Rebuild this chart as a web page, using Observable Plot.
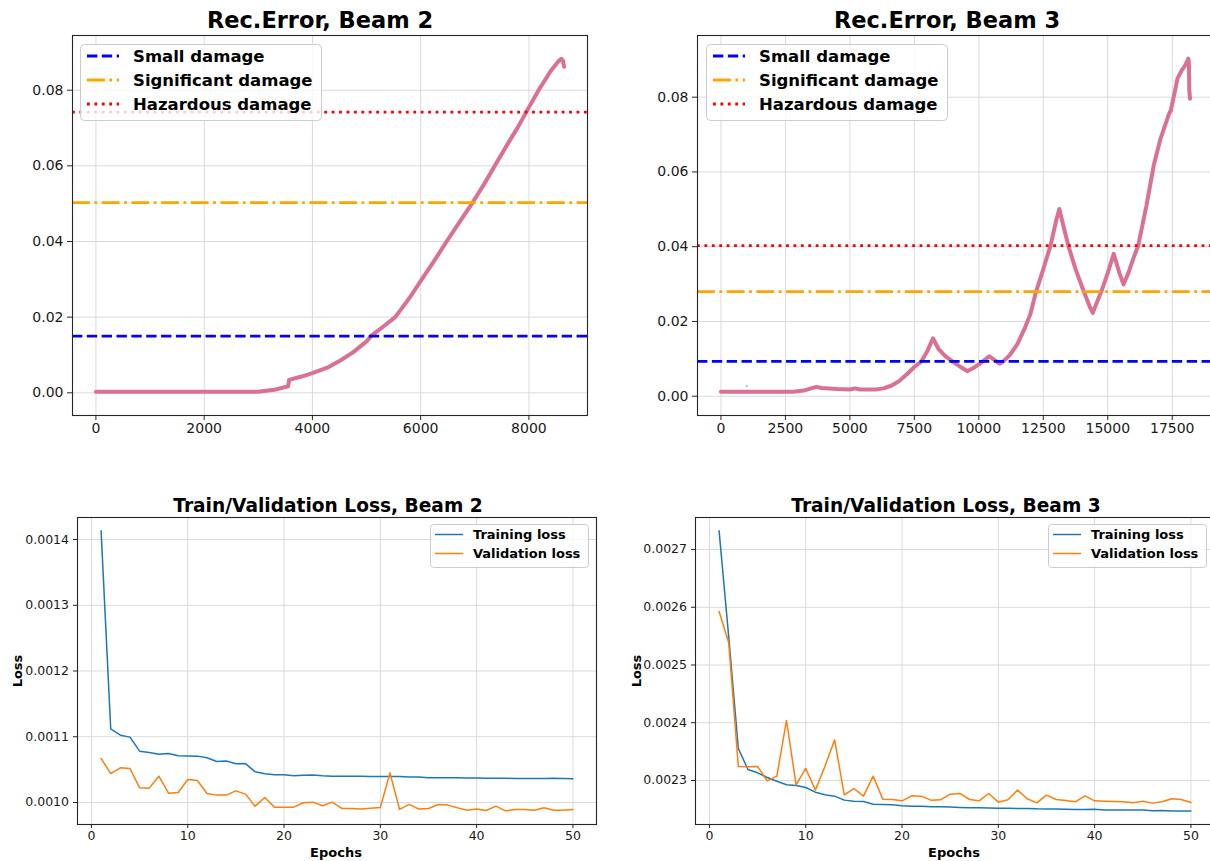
<!DOCTYPE html>
<html><head><meta charset="utf-8">
<script src="https://cdn.jsdelivr.net/npm/d3@7"></script>
<script src="https://cdn.jsdelivr.net/npm/@observablehq/plot@0.6"></script>
<style>
body{margin:0;background:#fff;}
#root{position:relative;width:1210px;height:861px;overflow:hidden;background:#fff;font-family:"DejaVu Sans",sans-serif;}
.panel{position:absolute;}
.panel svg{max-width:none !important;display:block;}
#overlay{position:absolute;left:0;top:0;pointer-events:none;}
</style>
</head><body>
<div id="root"></div>
<script>
// ---------------- data ----------------
const beam2Index = [0,1000,2000,3000,3300,3550,3570,3800,4000,4300,4500,4750,5000,5090,5300,5530,5800,6020,6250,6480,6720,6960,7170,7370,7650,7800,7950,8200,8400,8550,8600,8630,8650];
const beam2Error = [0.0003,0.0003,0.0003,0.0003,0.0008,0.0017,0.0034,0.0043,0.0052,0.0068,0.0084,0.0107,0.0136,0.0151,0.0174,0.0200,0.0252,0.0300,0.0349,0.0400,0.0452,0.0503,0.0551,0.0600,0.0668,0.0703,0.0742,0.0805,0.0850,0.0877,0.0883,0.0878,0.0862];

const beam3Index = [0,1000,2000,2800,3200,3500,3700,3900,4500,5000,5200,5400,6000,6300,6600,6900,7200,7500,7770,8000,8220,8450,8700,9000,9300,9550,9800,10100,10400,10600,10800,10950,11200,11500,11800,12000,12220,12500,12780,13000,13120,13300,13470,13750,14070,14300,14420,14600,14750,15000,15230,15450,15610,15800,16000,16180,16500,16790,17050,17380,17450,17700,17850,18000,18127,18150,18160,18190];
const beam3Error = [0.0012,0.0012,0.0012,0.0012,0.0015,0.0021,0.0025,0.0022,0.0019,0.0018,0.0021,0.0018,0.0018,0.0021,0.0028,0.0040,0.0058,0.0078,0.0093,0.0120,0.0155,0.0125,0.0107,0.0092,0.0078,0.0067,0.0076,0.0090,0.0107,0.0097,0.0087,0.0093,0.0110,0.0140,0.0185,0.0220,0.0280,0.0340,0.0403,0.0470,0.0501,0.0450,0.0403,0.0340,0.0280,0.0240,0.0223,0.0255,0.0280,0.0330,0.0381,0.0330,0.0299,0.0330,0.0370,0.0403,0.0510,0.0620,0.0690,0.0756,0.0765,0.0849,0.0870,0.0885,0.0903,0.0885,0.0820,0.0796];
const beam3OutlierIndex = [1000];
const beam3OutlierError = [0.0027];

const thresholdNames = ["Small damage","Significant damage","Hazardous damage"];
const thresholdColors = ["#0000ff","#ffa500","#ff0000"];
const beam2Thresholds = [0.0150,0.0503,0.0742];
const beam3Thresholds = [0.0093,0.0280,0.0403];

const epochs = [1,2,3,4,5,6,7,8,9,10,11,12,13,14,15,16,17,18,19,20,21,22,23,24,25,26,27,28,29,30,31,32,33,34,35,36,37,38,39,40,41,42,43,44,45,46,47,48,49,50];
const train2 = [0.0014132,0.0011120,0.0011024,0.0010994,0.0010780,0.0010760,0.0010735,0.0010745,0.0010710,0.0010708,0.0010705,0.0010680,0.0010624,0.0010630,0.0010590,0.0010592,0.0010466,0.0010436,0.0010421,0.0010421,0.0010406,0.0010413,0.0010418,0.0010405,0.0010400,0.0010400,0.0010399,0.0010400,0.0010397,0.0010395,0.0010394,0.0010397,0.0010386,0.0010386,0.0010376,0.0010376,0.0010375,0.0010375,0.0010374,0.0010372,0.0010370,0.0010367,0.0010368,0.0010365,0.0010366,0.0010363,0.0010364,0.0010368,0.0010366,0.0010360];
const val2 = [0.0010670,0.0010440,0.0010527,0.0010517,0.0010223,0.0010218,0.0010400,0.0010142,0.0010152,0.0010350,0.0010335,0.0010137,0.0010112,0.0010112,0.0010177,0.0010127,0.0009944,0.0010076,0.0009929,0.0009929,0.0009929,0.0009995,0.0010005,0.0009950,0.0010005,0.0009909,0.0009909,0.0009899,0.0009914,0.0009924,0.0010451,0.0009894,0.0009970,0.0009899,0.0009909,0.0009970,0.0009960,0.0009919,0.0009883,0.0009899,0.0009878,0.0009944,0.0009873,0.0009894,0.0009894,0.0009883,0.0009919,0.0009883,0.0009883,0.0009894];
const train3 = [0.0027323,0.0025488,0.0023554,0.0023190,0.0023133,0.0023052,0.0022988,0.0022925,0.0022913,0.0022879,0.0022798,0.0022752,0.0022729,0.0022660,0.0022642,0.0022636,0.0022590,0.0022584,0.0022579,0.0022561,0.0022556,0.0022555,0.0022546,0.0022544,0.0022540,0.0022533,0.0022527,0.0022527,0.0022522,0.0022518,0.0022518,0.0022515,0.0022517,0.0022510,0.0022508,0.0022506,0.0022502,0.0022498,0.0022497,0.0022500,0.0022490,0.0022489,0.0022488,0.0022487,0.0022487,0.0022478,0.0022481,0.0022472,0.0022471,0.0022473];
const val3 = [0.0025926,0.0025384,0.0023242,0.0023237,0.0023242,0.0022994,0.0023075,0.0024039,0.0022925,0.0023208,0.0022833,0.0023248,0.0023704,0.0022752,0.0022861,0.0022729,0.0023075,0.0022677,0.0022671,0.0022648,0.0022734,0.0022729,0.0022660,0.0022665,0.0022763,0.0022775,0.0022671,0.0022648,0.0022775,0.0022625,0.0022665,0.0022833,0.0022683,0.0022613,0.0022746,0.0022671,0.0022654,0.0022631,0.0022734,0.0022648,0.0022642,0.0022638,0.0022633,0.0022613,0.0022642,0.0022608,0.0022631,0.0022683,0.0022671,0.0022619];

const xTicksBeam2 = [0,2000,4000,6000,8000];
const xTicksBeam3 = [0,2500,5000,7500,10000,12500,15000,17500];
const yTicksErr = [0,0.02,0.04,0.06,0.08];
const xTicksEpochs = [0,10,20,30,40,50];
const yTicksLoss2 = [0.0010,0.0011,0.0012,0.0013,0.0014];
const yTicksLoss3 = [0.0023,0.0024,0.0025,0.0026,0.0027];

// ---------------- styles ----------------
const LW = 2.8;
const dashes = [`${3.7*LW},${1.6*LW}`, `${6.4*LW},${1.6*LW},${LW},${1.6*LW}`, `${LW},${1.65*LW}`];
const gridStyle = {stroke:"#d6d6d6", strokeOpacity:1, strokeWidth:0.9};
const pink = "#db7093";
const blue = "#1f77b4", orange = "#ff7f0e";

const root = document.getElementById("root");
function place(svg, left, top){
  const d = document.createElement("div");
  d.className = "panel"; d.style.left = left+"px"; d.style.top = top+"px";
  d.appendChild(svg); root.appendChild(d);
}

function errPlot(cfg){
  const rows = cfg.idx.map((x,i)=>({x, y: cfg.err[i]}));
  const marks = [
    Plot.gridX(cfg.xticks, gridStyle),
    Plot.gridY(yTicksErr, gridStyle),
    Plot.line(rows, {x:"x", y:"y", stroke:pink, strokeWidth:4, strokeLinejoin:"round", strokeLinecap:"round"}),
  ];
  if (cfg.outX) marks.push(Plot.dot(cfg.outX.map((x,i)=>({x,y:cfg.outY[i]})), {x:"x", y:"y", r:1.4, fill:pink, fillOpacity:0.45, stroke:null}));
  cfg.thr.forEach((t,i)=>{
    marks.push(Plot.ruleY([t], {stroke:thresholdColors[i], strokeWidth:LW, strokeDasharray:dashes[i], strokeLinecap:"butt"}));
  });
  marks.push(Plot.frame({stroke:"#262626", strokeWidth:1.1}));
  marks.push(Plot.axisX(cfg.xticks, {tickSize:5, tickPadding:3, tickFormat:d=>String(d), fontSize:14, label:null, stroke:"#262626"}));
  marks.push(Plot.axisY(yTicksErr, {tickSize:5, tickPadding:4, tickFormat:d3.format(".2f"), fontSize:14, label:null, stroke:"#262626"}));
  return Plot.plot({
    width:cfg.width, height:445,
    marginLeft:cfg.ml, marginRight:cfg.mr, marginTop:35, marginBottom:30,
    x:{domain:cfg.xdom},
    y:{domain:cfg.ydom},
    style:{fontFamily:"DejaVu Sans", fontSize:"14px", color:"#1a1a1a", background:"transparent", overflow:"visible"},
    marks
  });
}

function lossPlot(cfg){
  const tr = epochs.map((e,i)=>({e, v:cfg.train[i]}));
  const va = epochs.map((e,i)=>({e, v:cfg.val[i]}));
  return Plot.plot({
    width:cfg.width, height:371,
    marginLeft:cfg.ml, marginRight:cfg.mr, marginTop:27, marginBottom:37,
    x:{domain:[-1.45,52.45]},
    y:{domain:cfg.ydom},
    style:{fontFamily:"DejaVu Sans", fontSize:"12px", color:"#1a1a1a", background:"transparent", overflow:"visible"},
    marks:[
      Plot.gridX(xTicksEpochs, gridStyle),
      Plot.gridY(cfg.yticks, gridStyle),
      Plot.line(tr, {x:"e", y:"v", stroke:blue, strokeWidth:1.5}),
      Plot.line(va, {x:"e", y:"v", stroke:orange, strokeWidth:1.5}),
      Plot.frame({stroke:"#262626", strokeWidth:1.1}),
      Plot.axisX(xTicksEpochs, {tickSize:4, tickPadding:2.5, tickFormat:d=>String(d), fontSize:12.5, label:null, stroke:"#262626"}),
      Plot.axisY(cfg.yticks, {tickSize:4, tickPadding:4.5, tickFormat:d3.format(".4f"), fontSize:12.5, label:null, stroke:"#262626"})
    ]
  });
}

place(errPlot({idx:beam2Index, err:beam2Error, thr:beam2Thresholds, xticks:xTicksBeam2, width:600, ml:72, mr:13, xdom:[-432.5,9082.5], ydom:[-0.0060,0.09446]}), 0, 0);
place(errPlot({idx:beam3Index, err:beam3Error, thr:beam3Thresholds, xticks:xTicksBeam3, outX:beam3OutlierIndex, outY:beam3OutlierError, width:620, ml:92, mr:12, xdom:[-909,19100], ydom:[-0.00516,0.0965]}), 605, 0);
place(lossPlot({train:train2, val:val2, yticks:yTicksLoss2, width:605, ml:77, mr:9, ydom:[0.0009665,0.0014335]}), 0, 490);
place(lossPlot({train:train3, val:val3, yticks:yTicksLoss3, width:620, ml:90, mr:11, ydom:[0.0022238,0.0027554]}), 605, 490);

// ---------------- overlay: titles, axis labels, legends ----------------
const ov = d3.select(root).append("svg").attr("id","overlay").attr("width",1210).attr("height",861)
  .style("font-family","DejaVu Sans");

const titles = [
  {t:"Rec.Error, Beam 2", x:320, y:27.5, s:22.5},
  {t:"Rec.Error, Beam 3", x:947, y:27.5, s:22.5},
  {t:"Train/Validation Loss, Beam 2", x:328, y:512, s:18.6},
  {t:"Train/Validation Loss, Beam 3", x:946, y:512, s:18.6}
];
titles.forEach(d=>ov.append("text").attr("x",d.x).attr("y",d.y).attr("text-anchor","middle")
  .attr("font-size",d.s).attr("font-weight","bold").attr("fill","#000").text(d.t));

[[336,857],[954,857]].forEach(([x,y])=>ov.append("text").attr("x",x).attr("y",y).attr("text-anchor","middle")
  .attr("font-size",13).attr("font-weight","bold").attr("fill","#000").text("Epochs"));
[[22,671],[641,671]].forEach(([x,y])=>ov.append("text").attr("transform",`translate(${x},${y}) rotate(-90)`).attr("text-anchor","middle")
  .attr("font-size",13).attr("font-weight","bold").attr("fill","#000").text("Loss"));

function errLegend(x0,y0){
  const g = ov.append("g").attr("transform",`translate(${x0},${y0})`);
  g.append("rect").attr("x",0.5).attr("y",0.5).attr("width",241).attr("height",76).attr("rx",4)
    .attr("fill","#fff").attr("fill-opacity",0.8).attr("stroke","#cccccc").attr("stroke-width",1);
  thresholdNames.forEach((n,i)=>{
    const cy = 12 + i*24;
    g.append("line").attr("x1",7).attr("x2",39).attr("y1",cy).attr("y2",cy)
      .attr("stroke",thresholdColors[i]).attr("stroke-width",LW).attr("stroke-dasharray",dashes[i]);
    g.append("text").attr("x",53).attr("y",cy+6).attr("font-size",16.5).attr("font-weight","bold").attr("fill","#000").text(n);
  });
}
errLegend(80,44);
errLegend(706,44);

function lossLegend(x0,y0){
  const g = ov.append("g").attr("transform",`translate(${x0},${y0})`);
  g.append("rect").attr("x",0.5).attr("y",0.5).attr("width",158).attr("height",43).attr("rx",3)
    .attr("fill","#fff").attr("fill-opacity",0.8).attr("stroke","#cccccc").attr("stroke-width",1);
  [["Training loss",blue],["Validation loss",orange]].forEach(([n,c],i)=>{
    const cy = 10.5 + i*19;
    g.append("line").attr("x1",5).attr("x2",33).attr("y1",cy).attr("y2",cy).attr("stroke",c).attr("stroke-width",1.5);
    g.append("text").attr("x",43).attr("y",cy+4.7).attr("font-size",13).attr("font-weight","bold").attr("fill","#000").text(n);
  });
}
lossLegend(430,524);
lossLegend(1048,524);
</script>
</body></html>
